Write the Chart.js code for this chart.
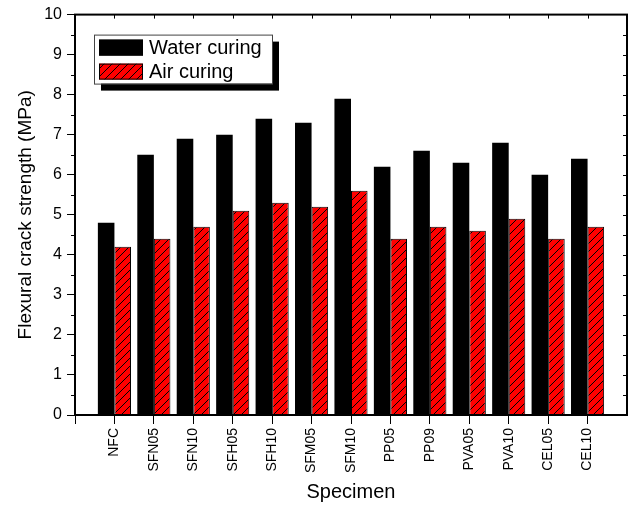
<!DOCTYPE html>
<html>
<head>
<meta charset="utf-8">
<script src="https://cdn.jsdelivr.net/npm/chart.js@4.4.0/dist/chart.umd.min.js"></script>
<style>
	body { margin: 0; background: #fff; }
</style>
</head>
<body>
<canvas id="grafico" width="637" height="505"></canvas>
<script>
// Datos
const especimenes = ["NFC", "SFN05", "SFN10", "SFH05", "SFH10", "SFM05", "SFM10", "PP05", "PP09", "PVA05", "PVA10", "CEL05", "CEL10"];
const curadoAgua = [4.8, 6.5, 6.9, 7.0, 7.4, 7.3, 7.9, 6.2, 6.6, 6.3, 6.8, 6.0, 6.4];
const curadoAire = [4.2, 4.4, 4.7, 5.1, 5.3, 5.2, 5.6, 4.4, 4.7, 4.6, 4.9, 4.4, 4.7];
const nombresSeries = ["Water curing", "Air curing"];

const FUENTE = 'Arial, "Liberation Sans", sans-serif';

// El eje x deja una posición vacía a cada lado, como en Origin
const etiquetas = ["", ...especimenes, ""];

const ctx = document.getElementById("grafico");

// Relleno rojo con rayado diagonal
const rayado = () => {
	const n = 8;
	const c = document.createElement("canvas");
	c.width = n;
	c.height = n;
	const g = c.getContext("2d");
	g.fillStyle = "#ff0000";
	g.fillRect(0, 0, n, n);
	g.strokeStyle = "#000";
	g.lineWidth = 1;
	g.beginPath();
	g.moveTo(0, n);
	g.lineTo(n, 0);
	g.moveTo(-1, 1);
	g.lineTo(1, -1);
	g.moveTo(n - 1, n + 1);
	g.lineTo(n + 1, n - 1);
	g.stroke();
	return ctx.getContext("2d").createPattern(c, "repeat");
};

const patron = rayado();

// Marco, marcas menores y leyenda
const marco = {
	id: "marco",
	afterDatasetsDraw(chart) {
		const { ctx: g, chartArea: a, scales } = chart;
		const x = scales.x;
		const y = scales.y;
		g.save();
		g.strokeStyle = "#000";
		g.lineWidth = 1;
		g.beginPath();
		for (let v = 0.5; v < 10; v += 1) {
			const p = Math.round(y.getPixelForValue(v)) + 0.5;
			g.moveTo(a.left - 4, p);
			g.lineTo(a.left, p);
		}
		for (let v = 0.5; v < 10; v += 0.5) {
			const p = Math.round(y.getPixelForValue(v)) + 0.5;
			g.moveTo(a.right - 4, p);
			g.lineTo(a.right, p);
		}
		for (let i = 1; i <= especimenes.length; i++) {
			const p = Math.round(x.getPixelForValue(i)) + 0.5;
			g.moveTo(p, a.top);
			g.lineTo(p, a.top + 4);
		}
		g.stroke();

		g.lineWidth = 2;
		g.strokeRect(a.left, a.top, a.right - a.left, a.bottom - a.top);

		// Leyenda con sombra
		const lx = a.left + 19;
		const ly = a.top + 20;
		const w = 178;
		const h = 49;
		g.fillStyle = "#000";
		g.fillRect(lx + 7, ly + 7, w, h);
		g.fillStyle = "#fff";
		g.fillRect(lx, ly, w, h);
		g.lineWidth = 1;
		g.strokeStyle = "#444";
		g.strokeRect(lx + 0.5, ly + 0.5, w, h);

		g.font = "20px " + FUENTE;
		g.textBaseline = "middle";
		chart.data.datasets.forEach((ds, i) => {
			const sy = ly + 5 + i * 24;
			g.fillStyle = ds.backgroundColor;
			g.fillRect(lx + 5, sy, 44, 16);
			g.strokeStyle = "#000";
			g.strokeRect(lx + 5.5, sy + 0.5, 43, 15);
			g.fillStyle = "#000";
			g.fillText(ds.label, lx + 55, sy + 9);
		});
		g.restore();
	},
};

const graph = new Chart(ctx, {
	type: "bar",
	data: {
		labels: etiquetas,
		datasets: [
			{
				label: nombresSeries[0],
				data: [null, ...curadoAgua, null],
				backgroundColor: "#000",
				borderWidth: 0,
			},
			{
				label: nombresSeries[1],
				data: [null, ...curadoAire, null],
				backgroundColor: patron,
				borderColor: "#000",
				borderWidth: 1,
			},
		],
	},
	options: {
		responsive: false,
		animation: false,
		devicePixelRatio: 1,
		layout: { padding: { top: 14, right: 10, left: 0, bottom: 0 } },
		datasets: {
			bar: { categoryPercentage: 0.84, barPercentage: 1.0 },
		},
		plugins: {
			legend: { display: false },
			tooltip: { enabled: false },
		},
		scales: {
			x: {
				type: "category",
				offset: false,
				grid: {
					offset: false,
					drawOnChartArea: false,
					tickLength: 9,
					tickColor: (c) => (c.index === etiquetas.length - 1 ? "rgba(0,0,0,0)" : "#000"),
				},
				border: { display: false },
				ticks: {
					autoSkip: false,
					minRotation: 90,
					maxRotation: 90,
					padding: 4,
					color: "#000",
					font: { family: FUENTE, size: 14 },
				},
				title: {
					display: true,
					text: "Specimen",
					color: "#000",
					font: { family: FUENTE, size: 20 },
					padding: { top: 0, bottom: 1 },
				},
				afterFit: (s) => {
					s.height = 90;
					s.paddingLeft = 0;
					s.paddingRight = 0;
				},
			},
			y: {
				min: 0,
				max: 10,
				ticks: {
					stepSize: 1,
					padding: 5,
					color: "#000",
					font: { family: FUENTE, size: 16 },
				},
				grid: {
					drawOnChartArea: false,
					tickLength: 8,
					tickColor: "#000",
				},
				border: { display: false },
				title: {
					display: true,
					text: "Flexural crack strength (MPa)",
					color: "#000",
					font: { family: FUENTE, size: 19 },
					padding: { top: 14, bottom: 0 },
				},
				afterFit: (s) => {
					s.width = 75;
				},
			},
		},
	},
	plugins: [marco],
});
</script>
</body>
</html>
